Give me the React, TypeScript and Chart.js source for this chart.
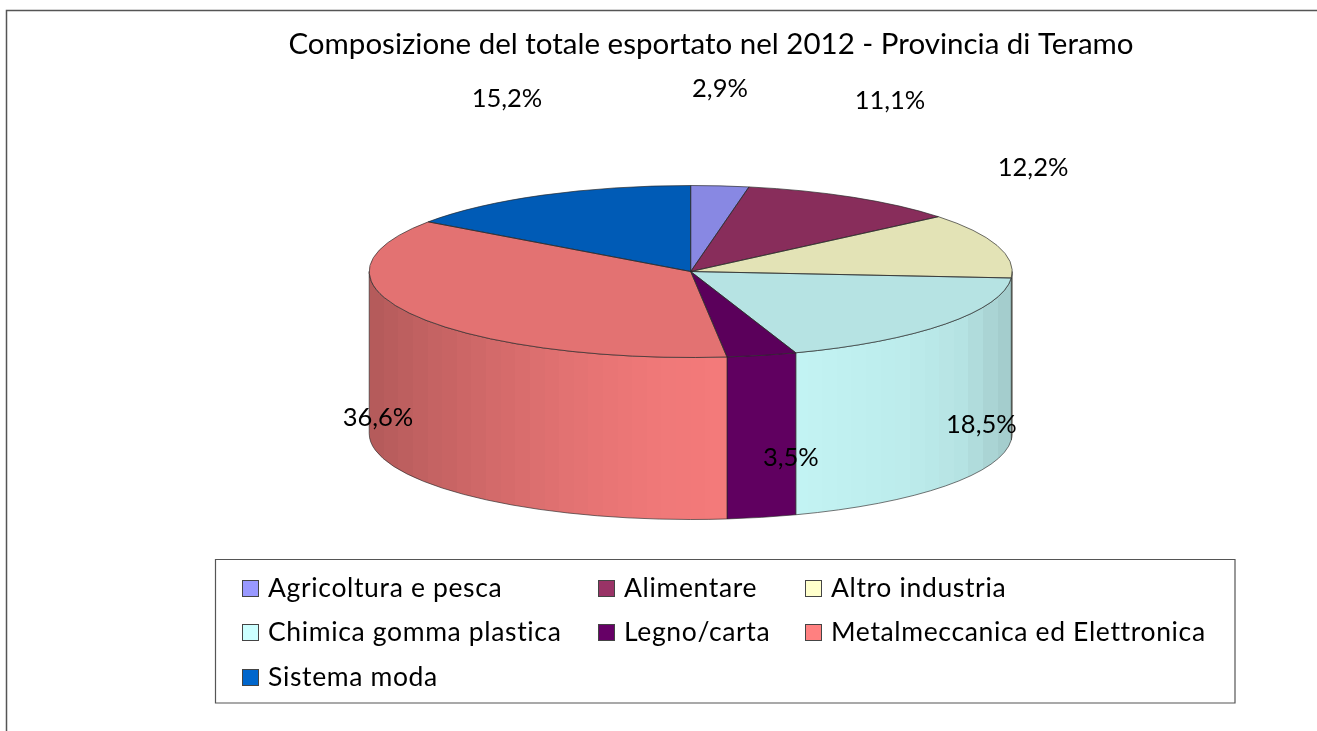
import React, { useEffect, useRef } from "react";
import { Chart, registerables } from "chart.js";

Chart.register(...registerables);

const TITLE = "Composizione del totale esportato nel 2012 - Provincia di Teramo";
const categories = [
  "Agricoltura e pesca",
  "Alimentare",
  "Altro industria",
  "Chimica gomma plastica",
  "Legno/carta",
  "Metalmeccanica ed Elettronica",
  "Sistema moda",
];
const shares = [2.9, 11.1, 12.2, 18.5, 3.5, 36.6, 15.2];
const baseColors = ["#9999FF", "#993366", "#FFFFCC", "#CCFFFF", "#660066", "#FF8080", "#0066CC"];
const topColors = baseColors.map((c) => shadeHex(c, 0.89));

// Layout constants
const CX = 690.7;
const CY = 271.5;
const RX = 321.5;
const RY = 86;
const DEPTH = 162;
const FONT = "Lato, Carlito, Calibri, sans-serif";
const LABEL_OFFSETS: [number, number][] = [
  [0, -97],
  [36.5, -96.5],
  [36, -78],
  [36, 100.5],
  [29, 102.5],
  [-36, 102.5],
  [-36, -96.5],
];
const LEGEND_BOX = { x: 215.5, y: 559.5, w: 1019.5, h: 143.5 };
const LEGEND_COLS = [242, 598, 805];
const LEGEND_ROWS = [588, 632, 677];
const SHADE_STOPS: [number, number][] = [
  [0, 0.7], [0.1, 0.77], [0.2, 0.83], [0.3, 0.885], [0.45, 0.94],
  [0.55, 0.955], [0.7, 0.95], [0.85, 0.92], [0.92, 0.89], [1, 0.79],
];

function shadeHex(hex: string, k: number) {
  const n = parseInt(hex.slice(1), 16);
  const f = (v: number) => Math.round(Math.min(255, v * k));
  return `rgb(${f((n >> 16) & 255)},${f((n >> 8) & 255)},${f(n & 255)})`;
}

function shadeAt(t: number) {
  for (let i = 1; i < SHADE_STOPS.length; i++) {
    const [a, va] = SHADE_STOPS[i - 1];
    const [b, vb] = SHADE_STOPS[i];
    if (t <= b) return va + ((t - a) / (b - a)) * (vb - va);
  }
  return SHADE_STOPS[SHADE_STOPS.length - 1][1];
}

function wallGradient(ctx: CanvasRenderingContext2D, hex: string) {
  const g = ctx.createLinearGradient(CX - RX, 0, CX + RX, 0);
  const bands = 44;
  for (let i = 0; i < bands; i++) {
    const c = shadeHex(hex, shadeAt((i + 0.5) / bands));
    g.addColorStop(i / bands, c);
    g.addColorStop((i + 1) / bands, c);
  }
  return g;
}

function text(
  ctx: CanvasRenderingContext2D,
  s: string,
  x: number,
  y: number,
  size: number,
  align: CanvasTextAlign,
  spacing: string
) {
  ctx.save();
  ctx.font = `${size}px ${FONT}`;
  (ctx as any).letterSpacing = spacing;
  ctx.fillStyle = "#000";
  ctx.textAlign = align;
  ctx.textBaseline = "middle";
  ctx.fillText(s, x, y);
  ctx.restore();
}

const pie3d = {
  id: "pie3d",
  beforeDraw(chart: any) {
    const { ctx, width, height } = chart;
    ctx.save();
    ctx.fillStyle = "#fff";
    ctx.fillRect(0, 0, width, height);
    ctx.strokeStyle = "#555";
    ctx.lineWidth = 1.5;
    ctx.beginPath();
    ctx.moveTo(6.5, height);
    ctx.lineTo(6.5, 10.5);
    ctx.lineTo(width, 10.5);
    ctx.stroke();
    ctx.restore();
  },
  beforeDatasetsDraw(chart: any) {
    const { ctx } = chart;
    const arcs = chart.getDatasetMeta(0).data;
    ctx.save();
    arcs.forEach((arc: any, i: number) => {
      const a1 = Math.max(arc.startAngle, 0);
      const a2 = Math.min(arc.endAngle, Math.PI);
      if (a2 <= a1) return;
      ctx.beginPath();
      ctx.ellipse(CX, CY, RX, RY, 0, a1, a2);
      ctx.ellipse(CX, CY + DEPTH, RX, RY, 0, a2, a1, true);
      ctx.closePath();
      ctx.fillStyle = baseColors[i] === "#660066" ? shadeHex(baseColors[i], 0.94) : wallGradient(ctx, baseColors[i]);
      ctx.fill();
      ctx.strokeStyle = "rgba(40,40,40,0.8)";
      ctx.lineWidth = 0.8;
      ctx.stroke();
    });
    ctx.restore();
    const a0 = arcs[0];
    ctx.save();
    ctx.translate(CX, CY);
    ctx.scale(RX / a0.outerRadius, RY / a0.outerRadius);
    ctx.translate(-a0.x, -a0.y);
  },
  afterDatasetsDraw(chart: any) {
    const { ctx } = chart;
    ctx.restore();
    const arcs = chart.getDatasetMeta(0).data;
    ctx.save();
    ctx.strokeStyle = "rgba(40,40,40,0.85)";
    ctx.lineWidth = 0.8;
    arcs.forEach((arc: any) => {
      ctx.beginPath();
      ctx.moveTo(CX, CY);
      ctx.ellipse(CX, CY, RX, RY, 0, arc.startAngle, arc.endAngle);
      ctx.closePath();
      ctx.stroke();
    });
    ctx.restore();
  },
  afterDraw(chart: any) {
    const { ctx } = chart;
    const arcs = chart.getDatasetMeta(0).data;
    text(ctx, TITLE, 711, 44, 29.5, "center", "0px");
    arcs.forEach((arc: any, i: number) => {
      const mid = (arc.startAngle + arc.endAngle) / 2;
      const x = CX + RX * Math.cos(mid) + LABEL_OFFSETS[i][0];
      const y = CY + RY * Math.sin(mid) + LABEL_OFFSETS[i][1];
      const label = shares[i].toFixed(1).replace(".", ",") + "%";
      text(ctx, label, x, y, 25.5, "center", "0px");
    });
    ctx.save();
    ctx.strokeStyle = "#555";
    ctx.lineWidth = 1.2;
    ctx.fillStyle = "#fff";
    ctx.beginPath();
    ctx.rect(LEGEND_BOX.x, LEGEND_BOX.y, LEGEND_BOX.w, LEGEND_BOX.h);
    ctx.fill();
    ctx.stroke();
    chart.data.labels.forEach((lab: string, i: number) => {
      const col = i % 3;
      const row = Math.floor(i / 3);
      const sx = LEGEND_COLS[col];
      const sy = LEGEND_ROWS[row];
      ctx.fillStyle = baseColors[i];
      ctx.strokeStyle = "#444";
      ctx.lineWidth = 1;
      ctx.fillRect(sx, sy - 8, 17, 17);
      ctx.strokeRect(sx + 0.5, sy - 8 + 0.5, 16, 16);
      text(ctx, lab, sx + 26, sy, 26.5, "left", "0.65px");
    });
    ctx.restore();
  },
};

export default function App() {
  const ref = useRef<HTMLCanvasElement>(null);
  useEffect(() => {
    document.body.style.margin = "0";
    document.body.style.background = "#fff";
    const chart = new Chart(ref.current!, {
      type: "pie",
      data: {
        labels: categories,
        datasets: [
          {
            data: shares,
            backgroundColor: topColors,
            borderWidth: 0,
          },
        ],
      },
      options: {
        responsive: false,
        animation: false,
        rotation: 0,
        layout: { padding: { left: 369, right: 305, top: 44, bottom: 44 } },
        plugins: {
          legend: { display: false },
          title: { display: false },
          tooltip: { enabled: false },
        },
      },
      plugins: [pie3d],
    } as any);
    return () => chart.destroy();
  }, []);
  return <canvas ref={ref} width={1317} height={731} style={{ display: "block" }} />;
}
